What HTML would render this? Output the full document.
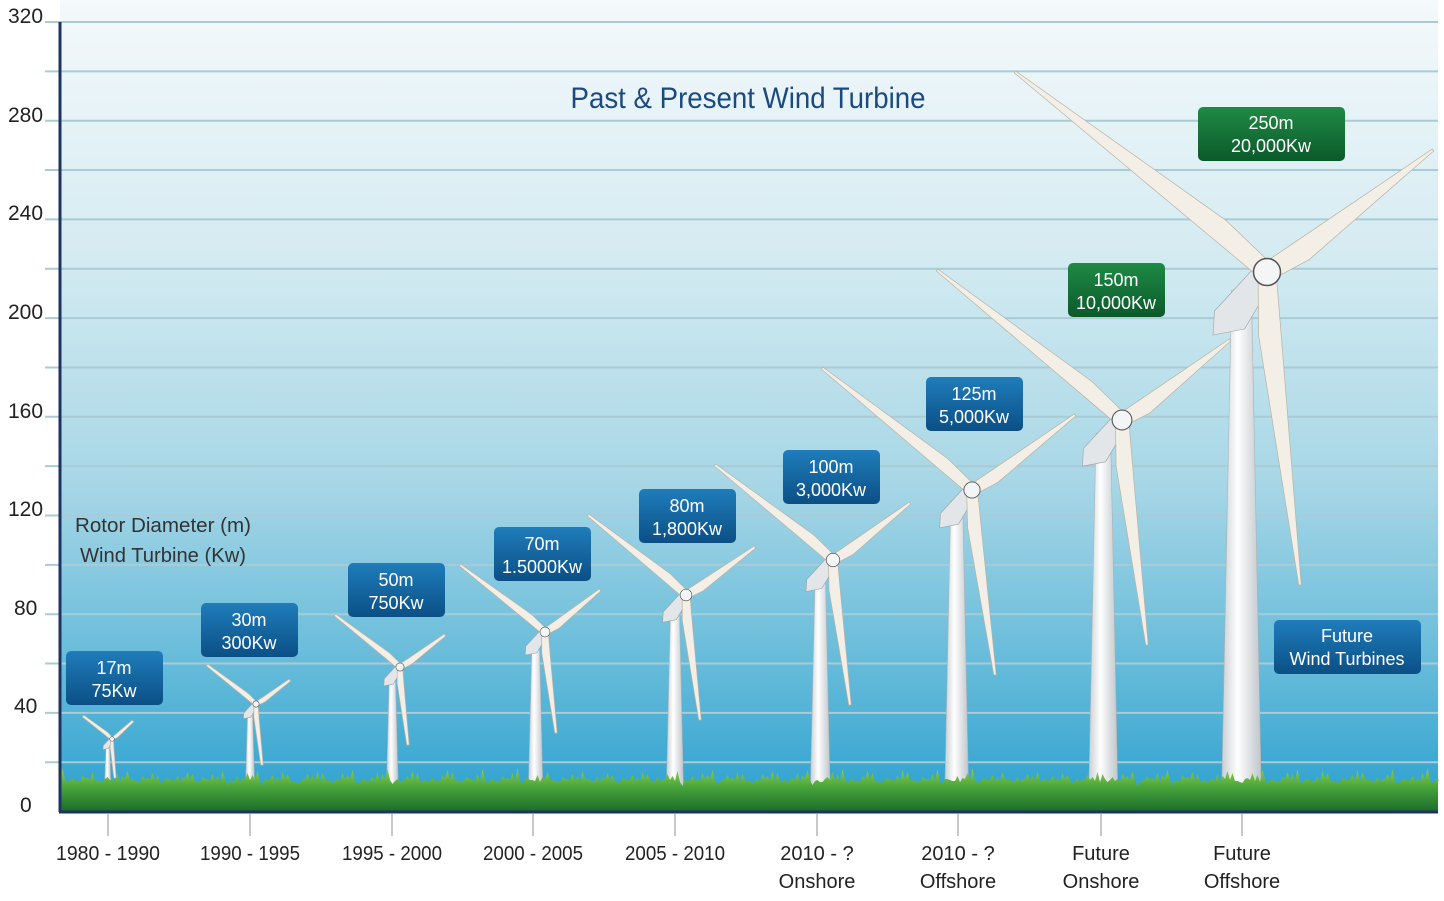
<!DOCTYPE html>
<html><head><meta charset="utf-8"><style>
html,body{margin:0;padding:0;background:#fff;}
svg{display:block;}
text{font-family:"Liberation Sans",sans-serif;}
</style></head><body>
<svg id="s" width="1444" height="901" viewBox="0 0 1444 901" xmlns="http://www.w3.org/2000/svg">
<defs>
<linearGradient id="bg" x1="0" y1="0" x2="0" y2="1">
<stop offset="0" stop-color="#f4f9fb"/>
<stop offset="0.3" stop-color="#d6ecf2"/>
<stop offset="0.6" stop-color="#a6d6e6"/>
<stop offset="0.85" stop-color="#5cb7d8"/>
<stop offset="1" stop-color="#2a9fcf"/>
</linearGradient>
<linearGradient id="gr" x1="0" y1="0" x2="0" y2="1">
<stop offset="0" stop-color="#8fcf4a"/>
<stop offset="0.45" stop-color="#46a33a"/>
<stop offset="1" stop-color="#1a6a2a"/>
</linearGradient>
<linearGradient id="bb" x1="0" y1="0" x2="0" y2="1">
<stop offset="0" stop-color="#1f7dba"/>
<stop offset="1" stop-color="#0b4f86"/>
</linearGradient>
<linearGradient id="gb" x1="0" y1="0" x2="0" y2="1">
<stop offset="0" stop-color="#1f8a45"/>
<stop offset="1" stop-color="#0b5a2a"/>
</linearGradient>
<linearGradient id="tw" x1="0" y1="0" x2="1" y2="0">
<stop offset="0" stop-color="#c9ced2"/>
<stop offset="0.4" stop-color="#ffffff"/>
<stop offset="1" stop-color="#bfc5ca"/>
</linearGradient>
</defs>
<rect x="60" y="0" width="1378" height="812" fill="url(#bg)"/>
<g id="grid" stroke="#a9cbd6" stroke-width="2"></g>
<g id="turb"></g>
<path id="grass" fill="url(#gr)"/>
<line x1="60" y1="22" x2="60" y2="812" stroke="#1d3461" stroke-width="3"/>
<line x1="59" y1="812" x2="1438" y2="812" stroke="#1d3461" stroke-width="3"/>
<g stroke="#c8c8c8" stroke-width="2" id="ticks"></g>

<g font-size="21" fill="#222">
<text x="8" y="23">320</text>
<text x="8" y="122">280</text>
<text x="8" y="220">240</text>
<text x="8" y="319">200</text>
<text x="8" y="418">160</text>
<text x="8" y="516">120</text>
<text x="14" y="615">80</text>
<text x="14" y="713">40</text>
<text x="20" y="812">0</text>
</g>

<text x="748" y="108" font-size="30" fill="#1b4a80" text-anchor="middle" textLength="355" lengthAdjust="spacingAndGlyphs">Past &amp; Present Wind Turbine</text>
<g font-size="20" fill="#333">
<text x="75" y="532" textLength="176" lengthAdjust="spacingAndGlyphs">Rotor Diameter (m)</text>
<text x="80" y="562" textLength="166" lengthAdjust="spacingAndGlyphs">Wind Turbine (Kw)</text>
</g>

<g font-size="20" fill="#222" text-anchor="middle">
<text x="108" y="860" textLength="104" lengthAdjust="spacingAndGlyphs">1980  - 1990</text>
<text x="250" y="860" textLength="100" lengthAdjust="spacingAndGlyphs">1990 - 1995</text>
<text x="392" y="860" textLength="100" lengthAdjust="spacingAndGlyphs">1995 - 2000</text>
<text x="533" y="860" textLength="100" lengthAdjust="spacingAndGlyphs">2000 - 2005</text>
<text x="675" y="860" textLength="100" lengthAdjust="spacingAndGlyphs">2005 - 2010</text>
<text x="817" y="860">2010 - ?</text>
<text x="817" y="888">Onshore</text>
<text x="958" y="860">2010 - ?</text>
<text x="958" y="888">Offshore</text>
<text x="1101" y="860">Future</text>
<text x="1101" y="888">Onshore</text>
<text x="1242" y="860">Future</text>
<text x="1242" y="888">Offshore</text>
</g>

<g font-size="18" fill="#fff" text-anchor="middle">
<rect x="66" y="651" width="97" height="54" rx="5" fill="url(#bb)"/><text x="114" y="674">17m</text><text x="114" y="697">75Kw</text>
<rect x="201" y="603" width="97" height="54" rx="5" fill="url(#bb)"/><text x="249" y="626">30m</text><text x="249" y="649">300Kw</text>
<rect x="348" y="563" width="97" height="54" rx="5" fill="url(#bb)"/><text x="396" y="586">50m</text><text x="396" y="609">750Kw</text>
<rect x="494" y="527" width="97" height="54" rx="5" fill="url(#bb)"/><text x="542" y="550">70m</text><text x="542" y="573">1.5000Kw</text>
<rect x="639" y="489" width="97" height="54" rx="5" fill="url(#bb)"/><text x="687" y="512">80m</text><text x="687" y="535">1,800Kw</text>
<rect x="783" y="450" width="97" height="54" rx="5" fill="url(#bb)"/><text x="831" y="473">100m</text><text x="831" y="496">3,000Kw</text>
<rect x="926" y="377" width="97" height="54" rx="5" fill="url(#bb)"/><text x="974" y="400">125m</text><text x="974" y="423">5,000Kw</text>
<rect x="1068" y="263" width="97" height="54" rx="5" fill="url(#gb)"/><text x="1116" y="286">150m</text><text x="1116" y="309">10,000Kw</text>
<rect x="1198" y="107" width="147" height="54" rx="5" fill="url(#gb)"/><text x="1271" y="129">250m</text><text x="1271" y="152">20,000Kw</text>
<rect x="1274" y="620" width="147" height="54" rx="5" fill="url(#bb)"/><text x="1347" y="642">Future</text><text x="1347" y="665">Wind Turbines</text>
</g>
</svg>
<script>
var NS="http://www.w3.org/2000/svg";
function el(p,t,a){var e=document.createElementNS(NS,t);for(var k in a)e.setAttribute(k,a[k]);p.appendChild(e);return e;}
var g=document.getElementById('grid');
for(var k=0;k<16;k++){var y=22+49.35*k;el(g,'line',{x1:45,y1:y,x2:1438,y2:y});}
var tk=document.getElementById('ticks');
var TX=[110,252,394,536,678,820,958,1103,1240];
[108,250,392,533,675,817,958,1101,1242].forEach(function(x){el(tk,'line',{x1:x,y1:814,x2:x,y2:836});});
var T=[
[112,739,[[83,716],[133,721],[115,778]],5],
[256,704,[[207,665],[290,680],[262,765]],7],
[400,667,[[335,615],[445,635],[408,745]],9],
[545,632,[[460,565],[600,590],[556,733]],11],
[686,595,[[588,515],[755,547],[700,720]],13],
[833,560,[[715,465],[910,503],[850,705]],15],
[972,490,[[822,368],[1075,415],[995,675]],18],
[1122,420,[[937,270],[1230,340],[1147,645]],22],
[1267,272,[[1015,72],[1433,150],[1300,585]],30]];
var tg=document.getElementById('turb');
T.forEach(function(t,i){
 var hx=t[0],hy=t[1],w=t[3],tx=hx-w*0.85;
 var top=hy+w*0.6;
 el(tg,'polygon',{points:(tx-w*0.33)+','+top+' '+(tx+w*0.33)+','+top+' '+(tx+w*0.66)+',790 '+(tx-w*0.66)+',790',fill:'url(#tw)',stroke:'#aab2b8','stroke-width':0.6});
 el(tg,'polygon',{points:(hx-w*0.1)+','+(hy-w*0.5)+' '+(hx+w*0.2)+','+(hy+w*0.3)+' '+(tx+w*0.1)+','+(hy+w*1.9)+' '+(tx-w*0.95)+','+(hy+w*2.1)+' '+(tx-w*0.9)+','+(hy+w*1.3),fill:'#e3e6e9',stroke:'#9aa2a8','stroke-width':0.6});
 t[2].forEach(function(p){
  var dx=p[0]-hx,dy=p[1]-hy,L=Math.sqrt(dx*dx+dy*dy),nx=-dy/L,ny=dx/L,ux=dx/L,uy=dy/L;
  var r=w*0.3,m=w*0.5;
  var pts=[[hx+nx*r,hy+ny*r],[hx+ux*L*0.2+nx*m,hy+uy*L*0.2+ny*m],[p[0]+nx*1.2,p[1]+ny*1.2],[p[0]-nx*1.2,p[1]-ny*1.2],[hx+ux*L*0.2-nx*m*0.5,hy+uy*L*0.2-ny*m*0.5],[hx-nx*r,hy-ny*r]];
  el(tg,'polygon',{points:pts.map(function(q){return q[0].toFixed(1)+','+q[1].toFixed(1);}).join(' '),fill:'#f3efe6',stroke:'#b9b3a6','stroke-width':0.7});
 });
 el(tg,'circle',{cx:hx,cy:hy,r:w*0.45,fill:'#f4f5f6',stroke:'#555','stroke-width':Math.max(0.6,w*0.05)});
});
var d='M60,812 L60,780';var x=60,i=0;
while(x<1438){var h=768+((i*37)%13)+((i*53)%7);d+=' L'+(x+2.5)+','+h+' L'+(x+5)+','+(779+(i%4));x+=5;i++;}
d+=' L1438,780 L1438,812 Z';
document.getElementById('grass').setAttribute('d',d);
</script>
</body></html>
